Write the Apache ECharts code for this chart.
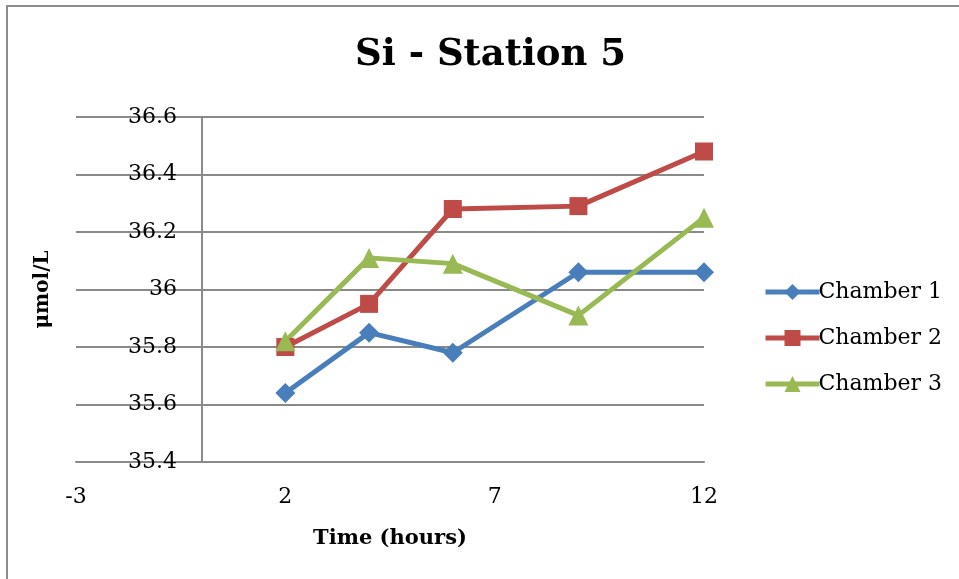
<!DOCTYPE html>
<html>
<head>
<meta charset="utf-8">
<script src="https://cdn.jsdelivr.net/npm/echarts@6/dist/echarts.min.js"></script>
<style>
  html, body { margin: 0; padding: 0; background: #fff; }
  #chart { width: 959px; height: 579px; }
</style>
</head>
<body>
<div id="chart"></div>
<script>
// Sampling times (hours) and silicate concentrations (µmol/L) per chamber
const hours = [2, 4, 6, 9, 12];
const chamber1 = [35.64, 35.85, 35.78, 36.06, 36.06];
const chamber2 = [35.80, 35.95, 36.28, 36.29, 36.48];
const chamber3 = [35.82, 36.11, 36.09, 35.91, 36.25];
const seriesNames = ['Chamber 1', 'Chamber 2', 'Chamber 3'];

const pair = (vals) => hours.map((h, i) => [h, vals[i]]);

const serif = '"DejaVu Serif", "Liberation Serif", serif';
const gridColor = '#8a8a8a';

const chart = echarts.init(document.getElementById('chart'));
chart.setOption({
  backgroundColor: '#ffffff',
  animation: false,
  graphic: [{
    type: 'rect',
    shape: { x: 7, y: 6, width: 970, height: 600 },
    style: { fill: 'none', stroke: '#8c8c8c', lineWidth: 2 },
    silent: true
  }],
  title: {
    text: 'Si - Station 5',
    left: 350,
    top: 32,
    textStyle: { fontFamily: serif, fontWeight: 'bold', fontSize: 37, color: '#000' }
  },
  legend: {
    data: seriesNames,
    orient: 'vertical',
    left: 758,
    top: 276,
    itemWidth: 54,
    itemHeight: 20,
    itemGap: 24,
    lineStyle: { width: 5 },
    textStyle: { fontFamily: serif, fontSize: 22, color: '#000', padding: [0, 0, 0, -6] }
  },
  grid: { left: 76, right: 255, top: 117, bottom: 117, containLabel: false, outerBoundsMode: 'none' },
  xAxis: {
    type: 'value',
    min: -3,
    max: 12,
    interval: 5,
    name: 'Time (hours)',
    nameLocation: 'middle',
    nameGap: 66,
    nameTextStyle: { fontFamily: serif, fontWeight: 'bold', fontSize: 21, color: '#000' },
    axisLine: { show: true, onZero: false, lineStyle: { color: gridColor, width: 2 } },
    axisTick: { show: false },
    splitLine: { show: false },
    axisLabel: { fontFamily: serif, fontSize: 22, color: '#000', margin: 24 }
  },
  yAxis: {
    type: 'value',
    min: 35.4,
    max: 36.6,
    interval: 0.2,
    name: 'μmol/L',
    nameLocation: 'middle',
    nameGap: 23,
    nameRotate: 90,
    nameTextStyle: { fontFamily: serif, fontWeight: 'bold', fontSize: 20, color: '#000' },
    axisLine: { show: true, onZero: true, lineStyle: { color: gridColor, width: 2 } },
    axisTick: { show: false },
    splitLine: { show: true, lineStyle: { color: gridColor, width: 2 } },
    axisLabel: {
      fontFamily: serif, fontSize: 22, color: '#000', margin: -101,
      padding: [4, 0, 0, 0],
      formatter: (v) => String(Math.round(v * 10) / 10)
    }
  },
  series: [
    {
      name: seriesNames[0], type: 'line', data: pair(chamber1),
      symbol: 'diamond', symbolSize: 20,
      itemStyle: { color: '#4a7ebb' },
      lineStyle: { color: '#4a7ebb', width: 5 }
    },
    {
      name: seriesNames[1], type: 'line', data: pair(chamber2),
      symbol: 'rect', symbolSize: 18,
      itemStyle: { color: '#be4b48' },
      lineStyle: { color: '#be4b48', width: 5 }
    },
    {
      name: seriesNames[2], type: 'line', data: pair(chamber3),
      symbol: 'triangle', symbolSize: 20,
      itemStyle: { color: '#98b954' },
      lineStyle: { color: '#98b954', width: 5 }
    }
  ]
});
</script>
</body>
</html>
